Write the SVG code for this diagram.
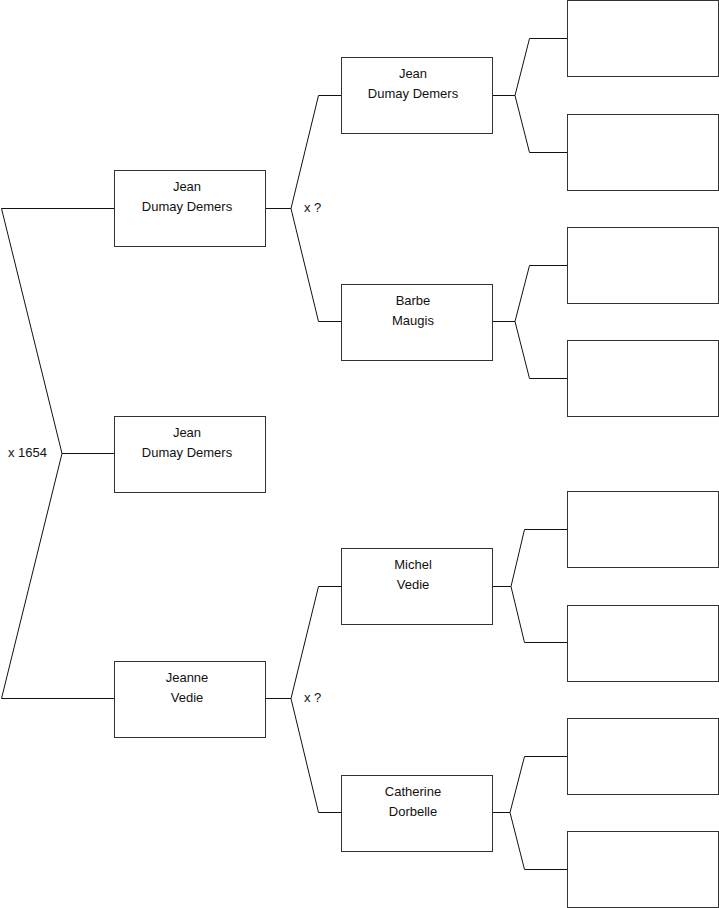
<svg xmlns="http://www.w3.org/2000/svg" width="719" height="908" viewBox="0 0 719 908">
<style>
.box{fill:#fff;stroke:#333;stroke-width:1}
.ln{fill:none;stroke:#111;stroke-width:1}
text{font-family:"Liberation Sans",Arial,sans-serif;font-size:13px;fill:#111}
.c{text-anchor:middle}
</style>
<rect width="719" height="908" fill="#fff"/>
<g id="connectors">
<polyline class="ln" points="114,208.5 1.5,208.5 62,453.5 1.5,698.5 114,698.5"/>
<line class="ln" x1="62" y1="453.5" x2="114" y2="453.5"/>
<polyline class="ln" points="341,95.5 318.5,95.5 291,208.5 318.5,321.5 341,321.5"/>
<line class="ln" x1="265" y1="208.5" x2="291" y2="208.5"/>
<polyline class="ln" points="341,586.5 318.5,586.5 291,698.5 318.5,812.5 341,812.5"/>
<line class="ln" x1="265" y1="698.5" x2="291" y2="698.5"/>
<polyline class="ln" points="567,38.5 529.5,38.5 515,95.5 529.5,152.5 567,152.5"/>
<line class="ln" x1="492" y1="95.5" x2="515" y2="95.5"/>
<polyline class="ln" points="567,265.5 529.5,265.5 515,321.5 529.5,378.5 567,378.5"/>
<line class="ln" x1="492" y1="321.5" x2="515" y2="321.5"/>
<polyline class="ln" points="567,529.5 524.5,529.5 511,586.5 524.5,642.5 567,642.5"/>
<line class="ln" x1="492" y1="586.5" x2="511" y2="586.5"/>
<polyline class="ln" points="567,756.5 524.5,756.5 510,812.5 524.5,869.5 567,869.5"/>
<line class="ln" x1="492" y1="812.5" x2="510" y2="812.5"/>
<text x="8" y="457">x 1654</text>
<text x="304" y="212">x ?</text>
<text x="304" y="702">x ?</text>
</g>
<g id="n-root"><rect class="box" x="114.5" y="416.5" width="151" height="76"/><text class="c" x="187" y="437">Jean</text><text class="c" x="187" y="457">Dumay Demers</text></g>
<g id="n-father"><rect class="box" x="114.5" y="170.5" width="151" height="76"/><text class="c" x="187" y="191">Jean</text><text class="c" x="187" y="211">Dumay Demers</text></g>
<g id="n-mother"><rect class="box" x="114.5" y="661.5" width="151" height="76"/><text class="c" x="187" y="682">Jeanne</text><text class="c" x="187" y="702">Vedie</text></g>
<g id="n-ff"><rect class="box" x="341.5" y="57.5" width="151" height="76"/><text class="c" x="413" y="78">Jean</text><text class="c" x="413" y="98">Dumay Demers</text></g>
<g id="n-fm"><rect class="box" x="341.5" y="284.5" width="151" height="76"/><text class="c" x="413" y="305">Barbe</text><text class="c" x="413" y="325">Maugis</text></g>
<g id="n-mf"><rect class="box" x="341.5" y="548.5" width="151" height="76"/><text class="c" x="413" y="569">Michel</text><text class="c" x="413" y="589">Vedie</text></g>
<g id="n-mm"><rect class="box" x="341.5" y="775.5" width="151" height="76"/><text class="c" x="413" y="796">Catherine</text><text class="c" x="413" y="816">Dorbelle</text></g>
<g id="n-g1"><rect class="box" x="567.5" y="0.5" width="151" height="76"/></g>
<g id="n-g2"><rect class="box" x="567.5" y="114.5" width="151" height="76"/></g>
<g id="n-g3"><rect class="box" x="567.5" y="227.5" width="151" height="76"/></g>
<g id="n-g4"><rect class="box" x="567.5" y="340.5" width="151" height="76"/></g>
<g id="n-g5"><rect class="box" x="567.5" y="491.5" width="151" height="76"/></g>
<g id="n-g6"><rect class="box" x="567.5" y="605.5" width="151" height="76"/></g>
<g id="n-g7"><rect class="box" x="567.5" y="718.5" width="151" height="76"/></g>
<g id="n-g8"><rect class="box" x="567.5" y="831.5" width="151" height="76"/></g>
</svg>
